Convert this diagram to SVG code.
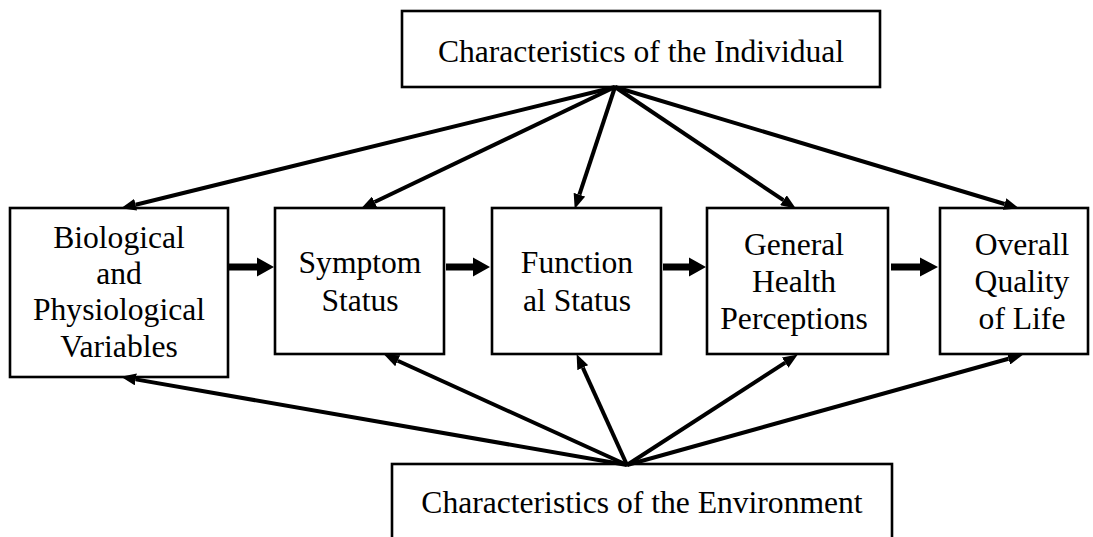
<svg xmlns="http://www.w3.org/2000/svg" width="1093" height="537" viewBox="0 0 1093 537">
<style>
.box{fill:#fff;stroke:#000;stroke-width:2.6}
.t{font-family:"Liberation Serif","Times New Roman",serif;font-size:31.6px;fill:#000;text-anchor:middle}
.c{stroke:#000;stroke-width:4;fill:none;marker-end:url(#ah)}
.thick{fill:#000}
</style>
<defs>
<marker id="ah" markerUnits="userSpaceOnUse" markerWidth="16" markerHeight="12" refX="0" refY="6" orient="auto" viewBox="0 0 16 12">
<path d="M0,0 L15,6 L0,12 z" fill="#000"/>
</marker>
</defs>
<rect width="1093" height="537" fill="#fff"/>
<g id="individual">
<rect class="box" x="402" y="11" width="478" height="76"/>
<text class="t" x="641" y="62">Characteristics of the Individual</text>
</g>
<g id="environment">
<rect class="box" x="392" y="464" width="500" height="80"/>
<text class="t" x="642" y="513">Characteristics of the Environment</text>
</g>
<g id="biological">
<rect class="box" x="10" y="208" width="218" height="169"/>
<text class="t" x="119" y="248">Biological</text>
<text class="t" x="119" y="284">and</text>
<text class="t" x="119" y="320">Physiological</text>
<text class="t" x="119" y="357">Variables</text>
</g>
<g id="symptom">
<rect class="box" x="275" y="208" width="169" height="146"/>
<text class="t" x="360" y="273">Symptom</text>
<text class="t" x="360" y="311">Status</text>
</g>
<g id="functional">
<rect class="box" x="492" y="208" width="169" height="146"/>
<text class="t" x="577" y="273">Function</text>
<text class="t" x="577" y="311">al Status</text>
</g>
<g id="health">
<rect class="box" x="707" y="208" width="181" height="146"/>
<text class="t" x="794" y="255">General</text>
<text class="t" x="794" y="292">Health</text>
<text class="t" x="794" y="329">Perceptions</text>
</g>
<g id="quality">
<rect class="box" x="940" y="208" width="148" height="146"/>
<text class="t" x="1022" y="255">Overall</text>
<text class="t" x="1022" y="292">Quality</text>
<text class="t" x="1022" y="329">of Life</text>
</g>
<g id="connectors">
<line class="c" x1="615" y1="87" x2="135.6" y2="204.7"/>
<line class="c" x1="615" y1="87" x2="374.6" y2="202"/>
<line class="c" x1="615" y1="87" x2="579.4" y2="194.7"/>
<line class="c" x1="615" y1="87" x2="783.4" y2="200.2"/>
<line class="c" x1="615" y1="87" x2="1004.6" y2="204"/>
<line class="c" x1="627" y1="465" x2="135.8" y2="379.4"/>
<line class="c" x1="627" y1="465" x2="397.7" y2="360.8"/>
<line class="c" x1="627" y1="465" x2="582.8" y2="367.7"/>
<line class="c" x1="627" y1="465" x2="785.2" y2="362.6"/>
<line class="c" x1="627" y1="465" x2="1008.5" y2="358.8"/>
<polygon class="thick" points="229,263.5 257,263.5 257,257.5 274,267 257,276.5 257,270.5 229,270.5"/>
<polygon class="thick" points="446,263.5 473,263.5 473,257.5 490,267 473,276.5 473,270.5 446,270.5"/>
<polygon class="thick" points="663,263.5 689,263.5 689,257.5 706,267 689,276.5 689,270.5 663,270.5"/>
<polygon class="thick" points="891,263.5 920,263.5 920,257.5 938,267 920,276.5 920,270.5 891,270.5"/>
</g>
</svg>
